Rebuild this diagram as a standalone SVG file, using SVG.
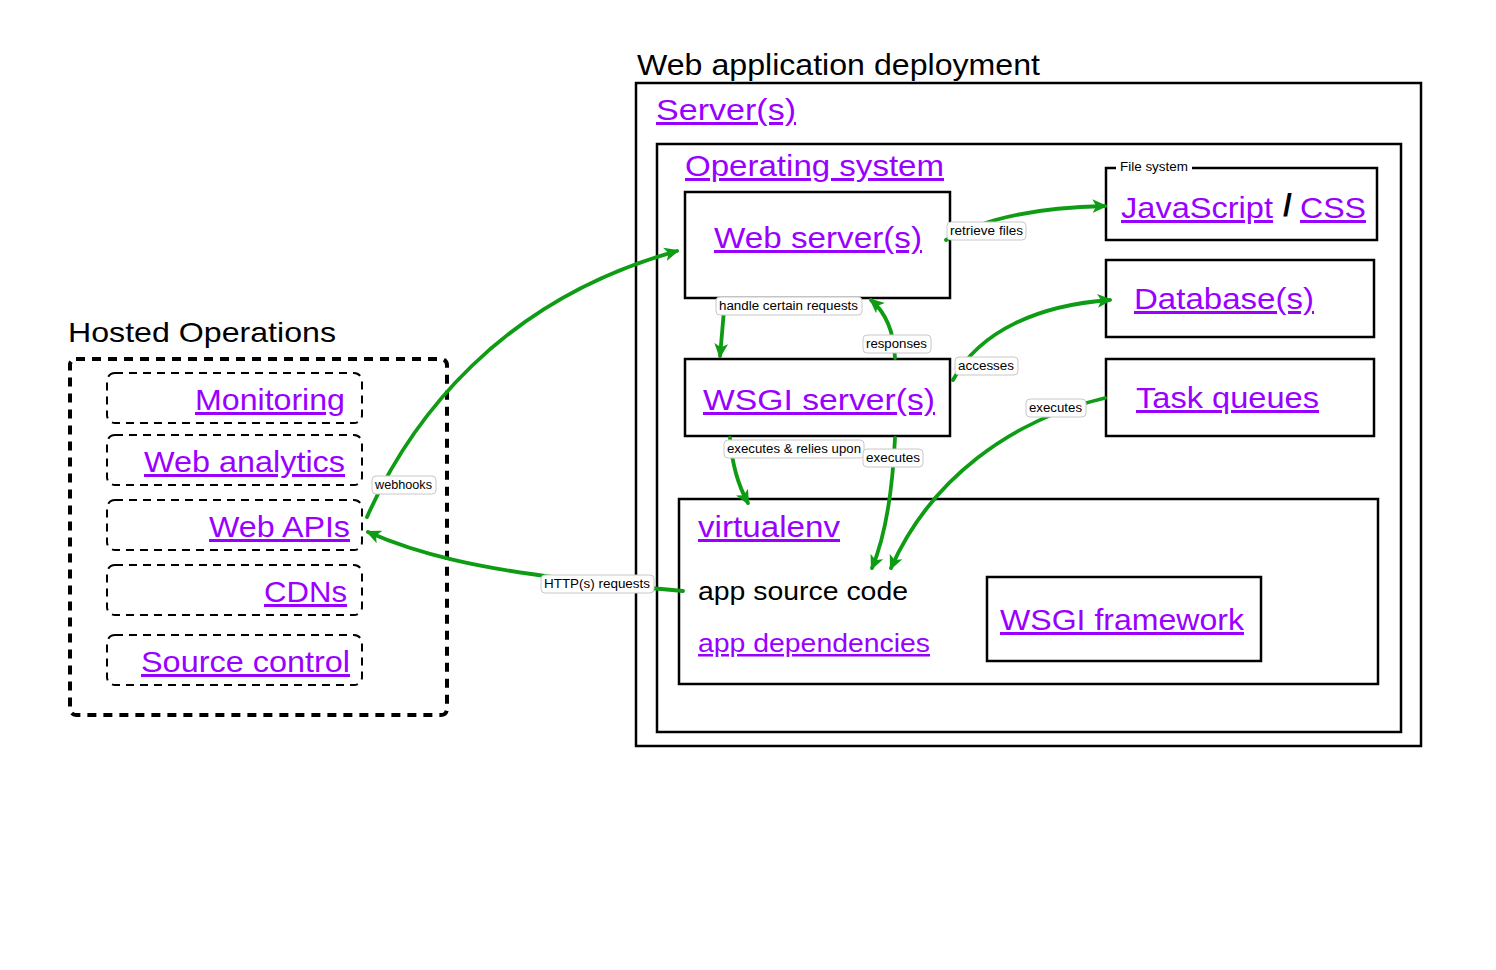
<svg xmlns="http://www.w3.org/2000/svg" width="1496" height="970" viewBox="0 0 1496 970">
<style>
.t{font-family:"Liberation Sans",Arial,sans-serif;fill:#000}
.lk{font-family:"Liberation Sans",Arial,sans-serif;fill:#9900ff;text-decoration:underline}
.box{fill:#fff;stroke:#000;stroke-width:2.5}
.dbox{fill:none;stroke:#000;stroke-width:2;stroke-dasharray:8 6}
.conn{fill:none;stroke:#0e9c14;stroke-width:3.8;stroke-linecap:round}
.lbl rect{fill:#fff;stroke:#c8c8c8;stroke-width:1}
.lbl text{font-family:"Liberation Sans",Arial,sans-serif;font-size:12.5px;fill:#000}
</style>
<defs>
<marker id="ah" viewBox="0 0 12 12" refX="10" refY="6" markerWidth="15" markerHeight="15" markerUnits="userSpaceOnUse" orient="auto">
<path d="M0,0.5 L12,6 L0,11.5 L3,6 Z" fill="#0e9c14"/>
</marker>
</defs>
<rect width="1496" height="970" fill="#fff"/>

<g id="deployment">
<text class="t" x="637" y="75" font-size="30" textLength="403" lengthAdjust="spacingAndGlyphs">Web application deployment</text>
<rect class="box" x="636" y="83" width="785" height="663"/>
<text class="lk" x="656" y="120" font-size="30" textLength="140" lengthAdjust="spacingAndGlyphs">Server(s)</text>
</g>
<g id="os">
<rect class="box" x="657" y="144" width="744" height="588"/>
<text class="lk" x="685" y="176" font-size="30" textLength="259" lengthAdjust="spacingAndGlyphs">Operating system</text>
</g>
<g id="webserver">
<rect class="box" x="685" y="192" width="265" height="106"/>
<text class="lk" x="714" y="248" font-size="30" textLength="208" lengthAdjust="spacingAndGlyphs">Web server(s)</text>
</g>
<g id="filesystem">
<rect class="box" x="1106" y="168" width="271" height="72"/>
<rect x="1116" y="160" width="76" height="14" fill="#fff"/>
<text class="t" x="1120" y="171" font-size="12" textLength="68" lengthAdjust="spacingAndGlyphs">File system</text>
<text class="lk" x="1121" y="218" font-size="30" textLength="152" lengthAdjust="spacingAndGlyphs">JavaScript</text>
<text class="t" x="1283" y="216" font-size="32" font-weight="bold">/</text>
<text class="lk" x="1300" y="218" font-size="30" textLength="66" lengthAdjust="spacingAndGlyphs">CSS</text>
</g>
<g id="database">
<rect class="box" x="1106" y="260" width="268" height="77"/>
<text class="lk" x="1134" y="309" font-size="30" textLength="180" lengthAdjust="spacingAndGlyphs">Database(s)</text>
</g>
<g id="taskqueues">
<rect class="box" x="1106" y="359" width="268" height="77"/>
<text class="lk" x="1136" y="408" font-size="30" textLength="183" lengthAdjust="spacingAndGlyphs">Task queues</text>
</g>
<g id="wsgiserver">
<rect class="box" x="685" y="359" width="265" height="77"/>
<text class="lk" x="703" y="410" font-size="30" textLength="232" lengthAdjust="spacingAndGlyphs">WSGI server(s)</text>
</g>
<g id="virtualenv">
<rect class="box" x="679" y="499" width="699" height="185"/>
<text class="lk" x="698" y="537" font-size="30" textLength="142" lengthAdjust="spacingAndGlyphs">virtualenv</text>
<text class="t" x="698" y="600" font-size="25" textLength="210" lengthAdjust="spacingAndGlyphs">app source code</text>
<text class="lk" x="698" y="652" font-size="25" textLength="232" lengthAdjust="spacingAndGlyphs">app dependencies</text>
</g>
<g id="wsgiframework">
<rect class="box" x="987" y="577" width="274" height="84"/>
<text class="lk" x="1000" y="630" font-size="30" textLength="244" lengthAdjust="spacingAndGlyphs">WSGI framework</text>
</g>

<g id="hosted">
<text class="t" x="68" y="342" font-size="28" textLength="268" lengthAdjust="spacingAndGlyphs">Hosted Operations</text>
<rect x="70" y="359" width="377" height="356" rx="6" fill="none" stroke="#000" stroke-width="4" stroke-dasharray="9 7"/>
</g>
<g id="monitoring">
<rect class="dbox" x="107" y="373" width="255" height="50" rx="8"/>
<text class="lk" x="345" y="410" font-size="30" text-anchor="end" textLength="150" lengthAdjust="spacingAndGlyphs">Monitoring</text>
</g>
<g id="webanalytics">
<rect class="dbox" x="107" y="435" width="255" height="50" rx="8"/>
<text class="lk" x="345" y="472" font-size="30" text-anchor="end" textLength="201" lengthAdjust="spacingAndGlyphs">Web analytics</text>
</g>
<g id="webapis">
<rect class="dbox" x="107" y="500" width="255" height="50" rx="8"/>
<text class="lk" x="350" y="537" font-size="30" text-anchor="end" textLength="141" lengthAdjust="spacingAndGlyphs">Web APIs</text>
</g>
<g id="cdns">
<rect class="dbox" x="107" y="565" width="255" height="50" rx="8"/>
<text class="lk" x="347" y="602" font-size="30" text-anchor="end" textLength="83" lengthAdjust="spacingAndGlyphs">CDNs</text>
</g>
<g id="sourcecontrol">
<rect class="dbox" x="107" y="635" width="255" height="50" rx="8"/>
<text class="lk" x="350" y="672" font-size="30" text-anchor="end" textLength="209" lengthAdjust="spacingAndGlyphs">Source control</text>
</g>

<g id="connectors">
<path class="conn" marker-end="url(#ah)" d="M367,517 C 410,420 500,300 677,251"/>
<path class="conn" marker-end="url(#ah)" d="M683,591 C 650,588 620,585 560,578 C 480,568 420,555 368,532"/>
<path class="conn" marker-end="url(#ah)" d="M946,240 C 990,215 1050,207 1105,206"/>
<path class="conn" marker-end="url(#ah)" d="M725,300 C 723,320 722,335 720,356"/>
<path class="conn" marker-end="url(#ah)" d="M895,358 C 894,330 885,312 871,300"/>
<path class="conn" marker-end="url(#ah)" d="M953,380 C 980,330 1040,305 1110,300"/>
<path class="conn" marker-end="url(#ah)" d="M1105,398 C 1010,420 930,480 891,568"/>
<path class="conn" marker-end="url(#ah)" d="M730,438 C 732,465 738,485 748,503"/>
<path class="conn" marker-end="url(#ah)" d="M895,438 C 893,480 888,530 872,568"/>
</g>

<g id="labels">
<g class="lbl"><rect x="372" y="476" width="64" height="18" rx="4"/><text x="375" y="489" textLength="57" lengthAdjust="spacingAndGlyphs">webhooks</text></g>
<g class="lbl"><rect x="541" y="575" width="113" height="18" rx="4"/><text x="544" y="588" textLength="106" lengthAdjust="spacingAndGlyphs">HTTP(s) requests</text></g>
<g class="lbl"><rect x="947" y="222" width="79" height="18" rx="4"/><text x="950" y="235" textLength="73" lengthAdjust="spacingAndGlyphs">retrieve files</text></g>
<g class="lbl"><rect x="716" y="297" width="146" height="18" rx="4"/><text x="719" y="310" textLength="139" lengthAdjust="spacingAndGlyphs">handle certain requests</text></g>
<g class="lbl"><rect x="863" y="335" width="68" height="18" rx="4"/><text x="866" y="348" textLength="61" lengthAdjust="spacingAndGlyphs">responses</text></g>
<g class="lbl"><rect x="955" y="357" width="63" height="18" rx="4"/><text x="958" y="370" textLength="56" lengthAdjust="spacingAndGlyphs">accesses</text></g>
<g class="lbl"><rect x="1026" y="399" width="60" height="18" rx="4"/><text x="1029" y="412" textLength="53" lengthAdjust="spacingAndGlyphs">executes</text></g>
<g class="lbl"><rect x="724" y="440" width="140" height="18" rx="4"/><text x="727" y="453" textLength="134" lengthAdjust="spacingAndGlyphs">executes &amp; relies upon</text></g>
<g class="lbl"><rect x="863" y="449" width="60" height="18" rx="4"/><text x="866" y="462" textLength="54" lengthAdjust="spacingAndGlyphs">executes</text></g>
</g>
</svg>
